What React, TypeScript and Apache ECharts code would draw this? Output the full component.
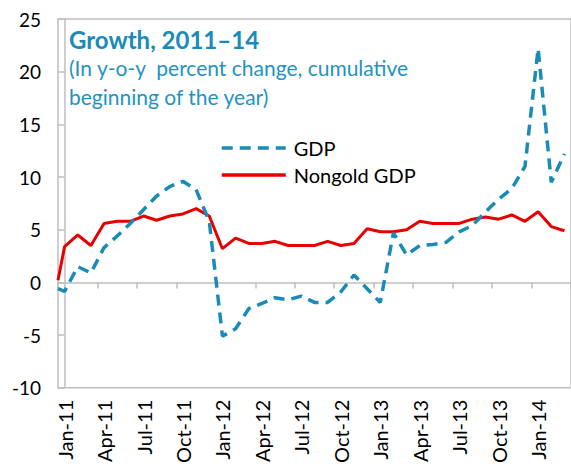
import React, { useEffect, useRef } from "react";
import * as echarts from "echarts";

const months = [
  "Jan-11", "Feb-11", "Mar-11", "Apr-11", "May-11", "Jun-11", "Jul-11", "Aug-11", "Sep-11", "Oct-11", "Nov-11", "Dec-11",
  "Jan-12", "Feb-12", "Mar-12", "Apr-12", "May-12", "Jun-12", "Jul-12", "Aug-12", "Sep-12", "Oct-12", "Nov-12", "Dec-12",
  "Jan-13", "Feb-13", "Mar-13", "Apr-13", "May-13", "Jun-13", "Jul-13", "Aug-13", "Sep-13", "Oct-13", "Nov-13", "Dec-13",
  "Jan-14", "Feb-14", "Mar-14",
];

// values at the left edge of the plot (before first month centre)
const gdpStart = -0.6;
const nongoldStart = 0.2;

const gdp = [
  -0.85, 1.5, 0.9, 3.3, 4.4, 5.6, 6.9, 8.2, 9.1, 9.6, 8.8, 5.8,
  -5.1, -4.4, -2.5, -2.0, -1.45, -1.65, -1.3, -1.9, -1.9, -0.9, 0.7, -0.6,
  -1.9, 4.7, 2.6, 3.5, 3.6, 3.8, 4.8, 5.4, 6.7, 7.9, 8.9, 11.0,
  22.2, 9.5, 12.2,
];

const nongold = [
  3.4, 4.5, 3.5, 5.6, 5.8, 5.8, 6.3, 5.9, 6.3, 6.5, 7.0, 6.3,
  3.2, 4.2, 3.7, 3.7, 3.9, 3.5, 3.5, 3.5, 3.9, 3.5, 3.7, 5.1,
  4.8, 4.8, 5.0, 5.8, 5.6, 5.6, 5.6, 6.0, 6.2, 6.0, 6.4, 5.8,
  6.7, 5.3, 4.9,
];

const FONT = "Lato, 'Open Sans', sans-serif";
const BLUE = "#1a8ab6";
const RED = "#e60000";
const GRAY = "#bfbfbf";

export default function App() {
  const ref = useRef<HTMLDivElement>(null);
  useEffect(() => {
    if (!ref.current) return;
    const chart = echarts.init(ref.current, null, { renderer: "svg" });
    const toPairs = (start: number, arr: number[]) =>
      [[-0.5, start] as [number, number]].concat(arr.map((v, i) => [i, v] as [number, number]));
    chart.setOption({
      animation: false,
      textStyle: { fontFamily: FONT },
      grid: {
        left: 58, top: 19, width: 515, height: 372,
        show: true, borderColor: GRAY, borderWidth: 1.5, backgroundColor: "transparent",
      },
      graphic: [
        {
          type: "text", left: 69, top: 27,
          style: { text: "Growth, 2011\u201314", font: `bold 24px ${FONT}`, fill: BLUE },
        },
        {
          type: "text", left: 69, top: 53,
          style: {
            text: "(In y-o-y  percent change, cumulative\nbeginning of the year)",
            font: `21px ${FONT}`, fill: "#2293c0", lineHeight: 29,
          },
        },
      ],
      legend: {
        orient: "vertical", left: 220, top: 138, padding: 0,
        itemWidth: 64, itemHeight: 20, itemGap: 7,
        itemStyle: { opacity: 0, color: "rgba(0,0,0,0)", borderWidth: 0 },
        lineStyle: { width: 3.5 },
        textStyle: { fontSize: 20, color: "#000", fontFamily: FONT, padding: [0, 0, 0, 3] },
        data: ["GDP", "Nongold GDP"],
      },
      xAxis: [
        {
          type: "category", data: months, boundaryGap: true, position: "bottom",
          axisLine: { show: false, onZero: false }, axisTick: { show: false },
          axisLabel: { interval: 2, rotate: 90, margin: 12, fontSize: 20, color: "#000", fontFamily: FONT },
        },
        {
          type: "category", data: months, boundaryGap: true, position: "bottom",
          axisLine: { show: true, onZero: true, lineStyle: { color: GRAY, width: 1.5 } },
          axisTick: { show: true, interval: 2, length: 6, lineStyle: { color: GRAY, width: 1.5 } },
          axisLabel: { show: false },
        },
        { type: "value", min: -0.5, max: 38.5, show: false },
      ],
      yAxis: {
        type: "value", min: -10, max: 25, interval: 5,
        axisLine: { show: true, lineStyle: { color: GRAY, width: 1.5 } },
        axisTick: { show: true, length: 7, lineStyle: { color: GRAY, width: 1.5 } },
        splitLine: { show: false },
        axisLabel: { fontSize: 19, color: "#000", margin: 17, fontFamily: FONT },
      },
      series: [
        {
          name: "GDP", type: "line", xAxisIndex: 2, data: toPairs(gdpStart, gdp),
          symbol: "none", lineStyle: { color: BLUE, width: 3.5, type: [11, 7], cap: "butt" },
          itemStyle: { color: BLUE }, z: 3,
        },
        {
          name: "Nongold GDP", type: "line", xAxisIndex: 2, data: toPairs(nongoldStart, nongold),
          symbol: "none", lineStyle: { color: RED, width: 3 },
          itemStyle: { color: RED }, z: 2,
        },
      ],
    });
    return () => chart.dispose();
  }, []);
  return (
    <div
      ref={ref}
      style={{ position: "fixed", left: 0, top: 0, width: 571, height: 466, background: "#fff" }}
    />
  );
}
